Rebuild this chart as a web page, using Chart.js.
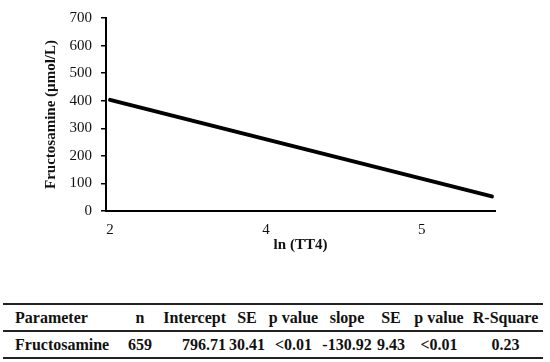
<!DOCTYPE html>
<html>
<head>
<meta charset="utf-8">
<script src="https://cdn.jsdelivr.net/npm/chart.js@4"></script>
<style>
  html, body { margin: 0; padding: 0; background: #fff; }
  body { width: 550px; height: 362px; position: relative; overflow: hidden; }
  #chart-box { position: absolute; left: 0; top: 0; width: 550px; height: 262px; }
  #stats {
    position: absolute; left: 3px; top: 303px; width: 540px;
    border-collapse: collapse; table-layout: fixed;
    font-family: "Liberation Serif", "DejaVu Serif", "Times New Roman", serif;
    font-weight: bold; font-size: 16px; color: #111;
  }
  #stats td { height: 25px; padding: 0; text-align: center; white-space: nowrap; }
  #stats tr.head td { border-top: 2px solid #222; border-bottom: 2px solid #222; }
  #stats tr.body td { border-bottom: 2px solid #222; }
  #stats td.first { text-align: left; padding-left: 12px; }
  #stats td.right { text-align: right; padding-right: 3px; }
</style>
</head>
<body>
<div id="chart-box"><canvas id="chart-fructosamine"></canvas></div>
<table id="stats"></table>
<script>
// x axis is drawn with three evenly spaced labels; line positions are in that tick-index space
const xTickLabels = ['2', '4', '5'];
const lineX = [0, 2.45];
const fructosamine = [403, 53];

const tableHeader = ['Parameter', 'n', 'Intercept', 'SE', 'p value', 'slope', 'SE', 'p value', 'R-Square'];
const tableRow = ['Fructosamine', '659', '796.71', '30.41', '<0.01', '-130.92', '9.43', '<0.01', '0.23'];
const colWidths = [122, 30, 74, 36, 57, 50, 38, 58, 75];

// table under the chart
const table = document.getElementById('stats');
const colgroup = document.createElement('colgroup');
colWidths.forEach(w => {
  const col = document.createElement('col');
  col.style.width = w + 'px';
  colgroup.appendChild(col);
});
table.appendChild(colgroup);
const tbody = document.createElement('tbody');
[tableHeader, tableRow].forEach((row, r) => {
  const tr = document.createElement('tr');
  tr.className = r === 0 ? 'head' : 'body';
  row.forEach((text, i) => {
    const td = document.createElement('td');
    td.textContent = text;
    if (i === 0) td.className = 'first';
    if (i === 2) td.className = 'right';
    tr.appendChild(td);
  });
  tbody.appendChild(tr);
});
table.appendChild(tbody);

const serif = '"Liberation Serif", "DejaVu Serif", "Times New Roman", serif';

new Chart(document.getElementById('chart-fructosamine'), {
  type: 'line',
  data: {
    datasets: [{
      label: 'Fructosamine',
      data: lineX.map((x, i) => ({ x: x, y: fructosamine[i] })),
      borderColor: '#000',
      borderWidth: 4,
      borderCapStyle: 'round',
      pointRadius: 0,
      fill: false,
    }]
  },
  options: {
    animation: false,
    responsive: true,
    maintainAspectRatio: false,
    layout: { padding: { left: 0, top: 9, right: 55, bottom: 0 } },
    plugins: {
      legend: { display: false },
      tooltip: { enabled: false },
    },
    scales: {
      x: {
        type: 'linear',
        min: -0.026,
        max: 2.47,
        afterBuildTicks: scale => {
          scale.ticks = xTickLabels.map((_, i) => ({ value: i }));
        },
        afterFit: scale => { scale.height = 51; },
        grid: { display: false, drawTicks: false },
        border: { display: true, color: '#000', width: 2 },
        ticks: {
          padding: 10,
          color: '#111',
          font: { family: serif, size: 15 },
          callback: value => xTickLabels[value],
        },
        title: {
          display: true,
          text: 'ln (TT4)',
          color: '#111',
          font: { family: serif, size: 15, weight: 'bold' },
          padding: { top: 0, bottom: 8 },
        },
      },
      y: {
        min: 0,
        max: 700,
        afterFit: scale => { scale.width = 106; },
        grid: { drawOnChartArea: false, drawTicks: true, tickLength: 5, color: '#000', lineWidth: 1.5 },
        border: { display: true, color: '#000', width: 2 },
        ticks: {
          stepSize: 100,
          padding: 9,
          color: '#111',
          font: { family: serif, size: 15 },
        },
        title: {
          display: true,
          text: 'Fructosamine (µmol/L)',
          color: '#111',
          font: { family: serif, size: 15, weight: 'bold' },
          padding: { top: 42, bottom: 0 },
        },
      },
    },
  },
});
</script>
</body>
</html>
